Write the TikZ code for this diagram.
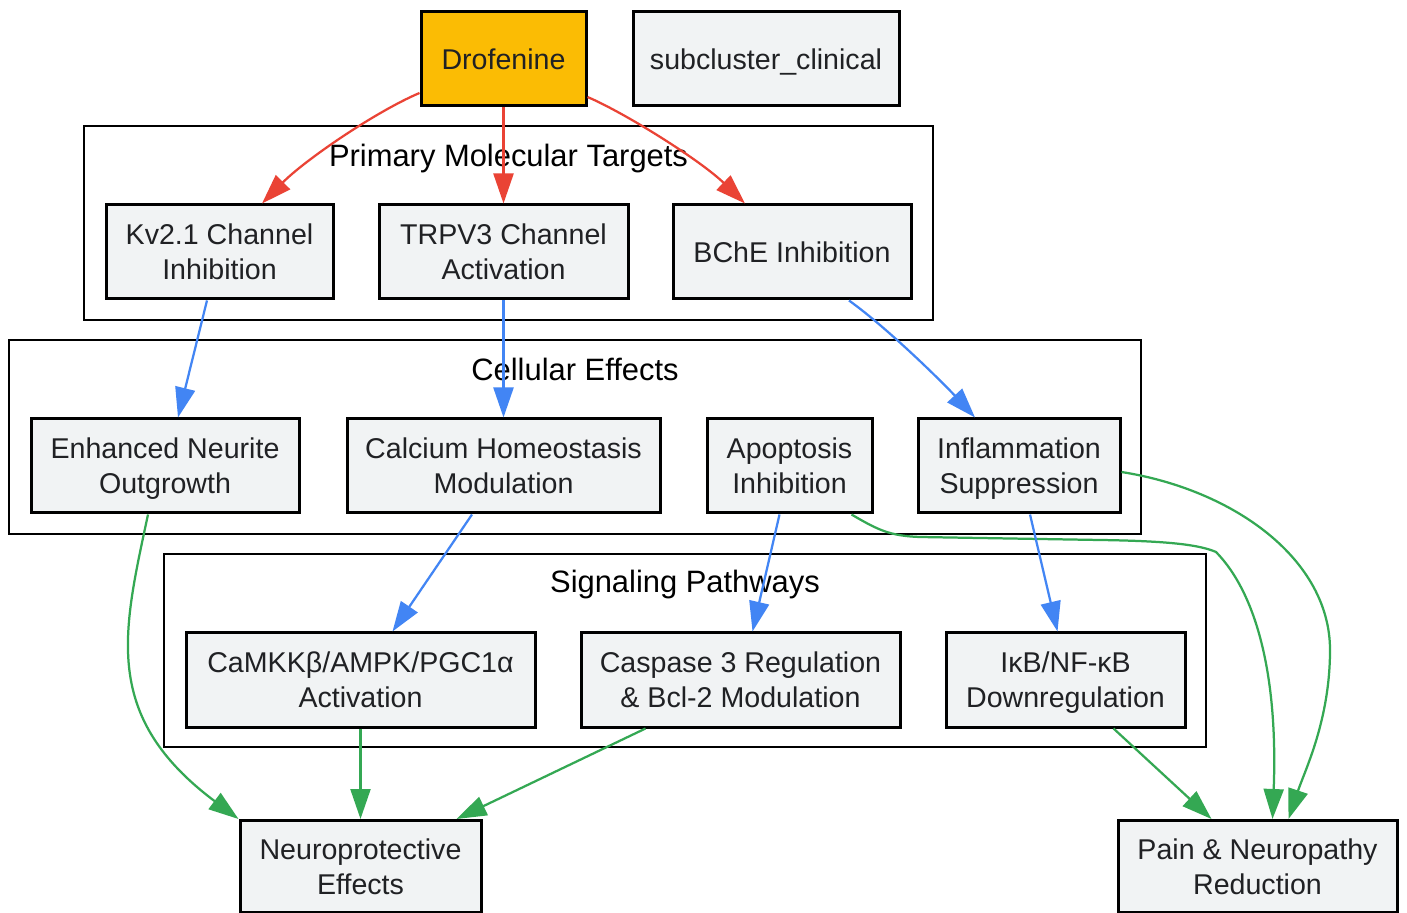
\documentclass[tikz,border=0pt]{standalone}
\usepackage{fontspec}
\setmainfont{Liberation Sans}
\usetikzlibrary{arrows.meta,calc}
\definecolor{nodefill}{HTML}{F1F3F4}
\definecolor{nodetext}{HTML}{202124}
\definecolor{drofill}{HTML}{FBBC04}
\definecolor{redE}{HTML}{EA4335}
\definecolor{blueE}{HTML}{4285F4}
\definecolor{greenE}{HTML}{34A853}
\newcommand\toprl{\rule{0pt}{13.5pt}}
\newcommand\toprs{\rule{0pt}{14.5pt}}
\newcommand\botrl{\rule[-3.5pt]{0pt}{3.5pt}}
\begin{document}
\begin{tikzpicture}[x=0.5pt,y=-0.5pt,
  box/.style={draw=black, line width=1.5pt, fill=nodefill, text=nodetext, align=center,
    inner sep=0pt, minimum height=47pt, font=\fontsize{14.3}{17.5}\selectfont},
  cluster/.style={draw=black, line width=1.25pt},
  clabel/.style={anchor=base, inner sep=0pt, text=black, font=\fontsize{15.45}{18}\selectfont},
  edgebase/.style={line width=1.12pt},
  redge/.style={edgebase, draw=redE, -{Triangle[length=15pt,width=10pt,fill=redE]}},
  bedge/.style={edgebase, draw=blueE, -{Triangle[length=15pt,width=10pt,fill=blueE]}},
  gedge/.style={edgebase, draw=greenE, -{Triangle[length=15pt,width=10pt,fill=greenE]}}
]
\useasboundingbox (0,0) rectangle (1407,913);
\fill[white] (0,0) rectangle (1407,913);

% clusters
\draw[cluster] (84,126) rectangle (933,320);
\draw[cluster] (9,340) rectangle (1141,534);
\draw[cluster] (164,554) rectangle (1206,747);
\node[clabel] (lprim) at (508.5,167) {Primary Molecular Targets};
\node[clabel] (lcell) at (575,381) {Cellular Effects};
\node[clabel] (lsig) at (685,593) {Signaling Pathways};

% nodes
\node[box, fill=drofill, minimum width=82.5pt] (dro) at (503.5,59) {\toprs Drofenine\botrl};
\node[box, minimum width=133pt] (sub) at (766,59) {\toprs subcluster\_clinical\botrl};

\node[box, minimum width=113.5pt] (kv) at (219.5,252) {\toprl Kv2.1 Channel\\Inhibition\botrl};
\node[box, minimum width=124.5pt] (trpv) at (503.5,252) {\toprl TRPV3 Channel\\Activation\botrl};
\node[box, minimum width=119pt] (bche) at (792,252) {\toprs BChE Inhibition\botrl};

\node[box, minimum width=134pt] (enh) at (165,466) {\toprl Enhanced Neurite\\Outgrowth\botrl};
\node[box, minimum width=156.5pt] (cal) at (503.5,466) {\toprl Calcium Homeostasis\\Modulation\botrl};
\node[box, minimum width=82.5pt] (apo) at (789.5,466) {\toprl Apoptosis\\Inhibition\botrl};
\node[box, minimum width=101pt] (inf) at (1019,466) {\toprl Inflammation\\Suppression\botrl};

\node[box, minimum width=174.5pt] (cam) at (360.5,680) {\toprl CaMKKβ/AMPK/PGC1α\\Activation\botrl};
\node[box, minimum width=159.5pt] (cas) at (740.5,680) {\toprl Caspase 3 Regulation\\\& Bcl-2 Modulation\botrl};
\node[box, minimum width=119.5pt] (ikb) at (1065.5,680) {\toprl IκB/NF-κB\\Downregulation\botrl};

\node[box, minimum width=120.5pt, minimum height=46pt] (neu) at (360.5,866.5) {\toprl Neuroprotective\\Effects\botrl};
\node[box, minimum width=139.5pt, minimum height=46pt] (pain) at (1257.5,866.5) {\toprl Pain \& Neuropathy\\Reduction\botrl};

% edges
\draw[redge] ($(dro.west)+(0,34)$) .. controls (375,112) and (305,160) .. ($(kv.north)+(42.5,0)$);
\draw[redge] (dro.south) -- (trpv.north);
\draw[redge] ($(dro.east)+(0,38)$) .. controls (625,113) and (700,160) .. ($(bche.north)+(-47,0)$);

\draw[bedge] ($(kv.south)+(-12.5,0)$) -- ($(enh.north)+(13,0)$);
\draw[bedge] (trpv.south) -- (cal.north);
\draw[bedge] ($(bche.south)+(57,0)$) .. controls (890,330) and (945,385) .. ($(inf.north)+(-44,0)$);

\draw[gedge] ($(enh.south)+(-17,0)$) .. controls (123,632) and (101,716) .. (neu.north west);
\draw[bedge] ($(cal.south)+(-31.5,0)$) -- ($(cam.north)+(32,0)$);
\draw[bedge] ($(apo.south)+(-10,0)$) -- ($(cas.north)+(12,0)$);
\draw[gedge] ($(apo.south)+(62,0)$) .. controls (878,530) and (890,536) .. (920,537)
   -- (1100,540) .. controls (1170,541) and (1200,545) .. (1216,552)
   .. controls (1258,595) and (1278,680) .. ($(pain.north)+(15,0)$);
\draw[bedge] ($(inf.south)+(11,0)$) -- ($(ikb.north)+(-8,0)$);
\draw[gedge] ($(inf.east)+(0,6)$) .. controls (1235,490) and (1330,560) .. (1330,650)
   .. controls (1330,720) and (1305,770) .. ($(pain.north)+(31,0)$);

\draw[gedge] (cam.south) -- (neu.north);
\draw[gedge] ($(cas.south)+(-95,0)$) -- ($(neu.north east)+(-26,0)$);
\draw[gedge] ($(ikb.south)+(48,0)$) -- ($(pain.north west)+(95,0)$);
\end{tikzpicture}
\end{document}
